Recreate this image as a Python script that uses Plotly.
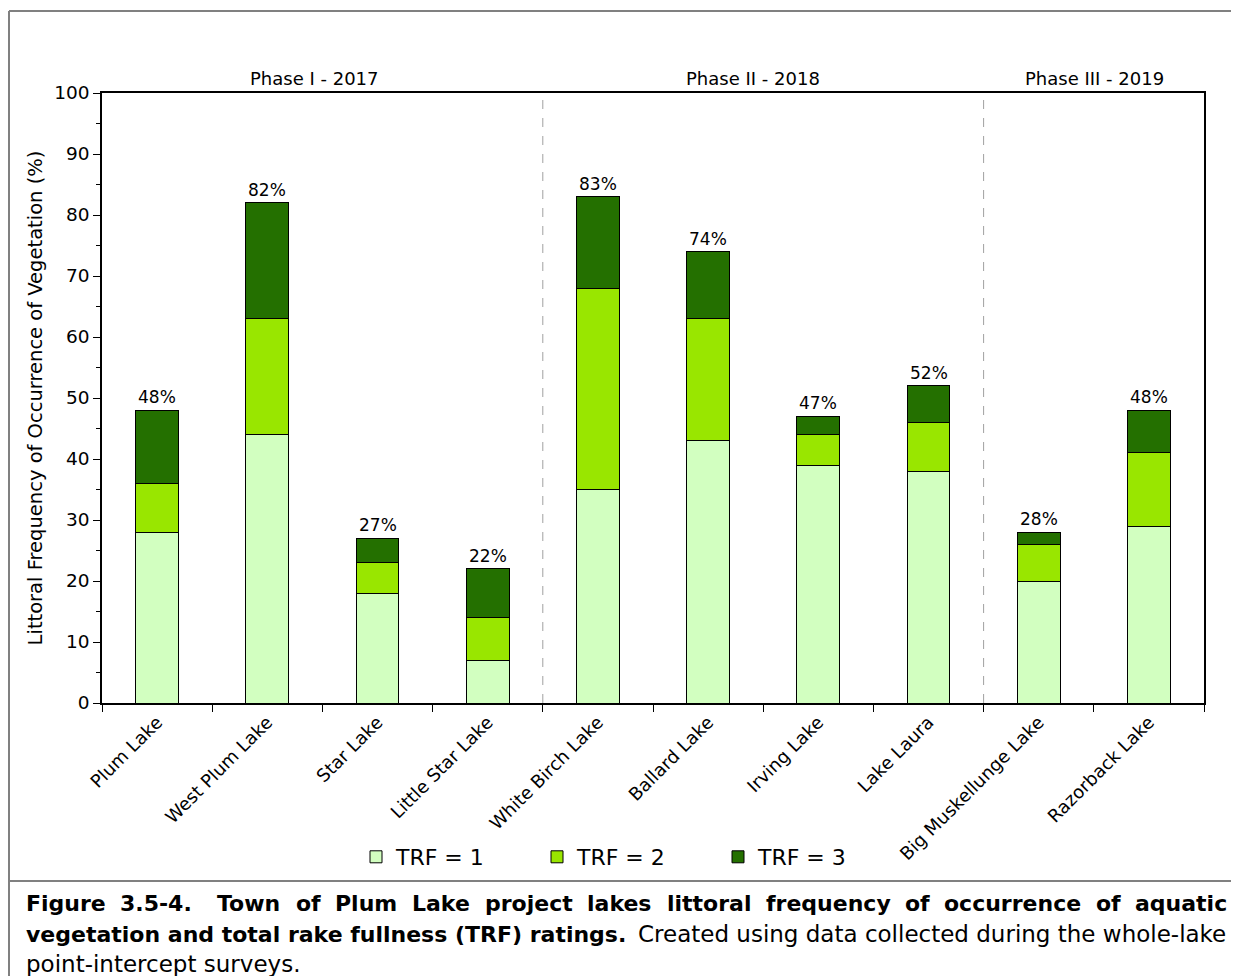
import plotly.graph_objects as go

lakes = ["Plum Lake", "West Plum Lake", "Star Lake", "Little Star Lake", "White Birch Lake",
         "Ballard Lake", "Irving Lake", "Lake Laura", "Big Muskellunge Lake", "Razorback Lake"]
trf1 = [28, 44, 18, 7, 35, 43, 39, 38, 20, 29]
trf2 = [8, 19, 5, 7, 33, 20, 5, 8, 6, 12]
trf3 = [12, 19, 4, 8, 15, 11, 3, 6, 2, 7]
phases = ["Phase I - 2017", "Phase II - 2018", "Phase III - 2019"]
phase_pos = [1.43, 5.41, 8.51]
phase_breaks = [3.5, 7.5]
y_ticks = [0, 10, 20, 30, 40, 50, 60, 70, 80, 90, 100]

colors = ["#D2FFC0", "#99E600", "#247000"]
names = ["TRF = 1", "TRF = 2", "TRF = 3"]

FONT = "DejaVu Sans"

# The page body adds an 8px margin, so the figure is drawn 8px smaller and offset.
OFF = 8
W, H = 1239 - OFF, 976 - OFF
L, R, T, B = 102, 1204, 93, 703  # plot area in reference (page) pixels


def px(x):
    return (x - L) / (R - L)


def py(y):
    return (B - y) / (B - T)


fig = go.Figure()
for vals, c, n in zip([trf1, trf2, trf3], colors, names):
    fig.add_trace(go.Bar(x=lakes, y=vals, name=n,
                         marker=dict(color=c, line=dict(color="black", width=1)), width=0.39))

totals = [a + b + c for a, b, c in zip(trf1, trf2, trf3)]
for lk, t in zip(lakes, totals):
    fig.add_annotation(x=lk, y=t, text=f"{t}%", showarrow=False, yanchor="bottom", yshift=1,
                       font=dict(size=17, color="black", family=FONT))

for p, xp in zip(phases, phase_pos):
    fig.add_annotation(x=xp, xref="x", y=py(78), yref="paper", text=p, showarrow=False,
                       yanchor="middle", font=dict(size=18, color="black", family=FONT))

for b in phase_breaks:
    fig.add_shape(type="line", x0=b, x1=b, xref="x", y0=0, y1=100, yref="y",
                  line=dict(color="#A0A0A0", width=1, dash="dash"))

# outer frame
fig.add_shape(type="line", xref="paper", yref="paper", x0=px(9), x1=px(1250), y0=py(11), y1=py(11),
              line=dict(color="#808080", width=2))
fig.add_shape(type="line", xref="paper", yref="paper", x0=px(9), x1=px(9), y0=py(11), y1=py(990),
              line=dict(color="#808080", width=2))
fig.add_shape(type="line", xref="paper", yref="paper", x0=px(9), x1=px(1250), y0=py(881), y1=py(881),
              line=dict(color="#808080", width=2))

# ---- caption ----
BOLD_W = {" ": .348, "(": .457, ")": .457, "-": .416, ".": .381, "F": .683, "T": .682, "R": .770,
          "P": .733, "L": .638, "a": .675, "c": .593, "d": .716, "e": .678, "f": .435, "g": .716,
          "i": .343, "j": .343, "k": .665, "l": .343, "m": 1.042, "n": .712, "o": .687, "p": .716,
          "q": .716, "r": .493, "s": .595, "t": .478, "u": .712, "v": .652, "w": .872, "y": .652}


def bold_width(word, size):
    return sum(BOLD_W.get(ch, .696) for ch in word) * size


cap_size = 22
line1 = "Figure 3.5-4. Town of Plum Lake project lakes littoral frequency of occurrence of aquatic".split()
x_left, x_right = 24, 1225
widths = [bold_width(w, cap_size) for w in line1]
extra_after = {1: 10}  # double space after the figure number
gap = (x_right - x_left - sum(widths) - sum(extra_after.values())) / (len(line1) - 1)
xc = x_left
for i, (w, wd) in enumerate(zip(line1, widths)):
    fig.add_annotation(x=px(xc), y=py(904), xref="paper", yref="paper", text=f"<b>{w}</b>",
                       showarrow=False, xanchor="left", yanchor="middle",
                       font=dict(size=cap_size, color="black", family=FONT))
    xc += wd + gap + extra_after.get(i, 0)

fig.add_annotation(x=px(24), y=py(934), xref="paper", yref="paper",
                   text="<b>vegetation and total rake fullness (TRF) ratings.</b>",
                   showarrow=False, xanchor="left", yanchor="middle",
                   font=dict(size=cap_size, color="black", family=FONT))
fig.add_annotation(x=px(1228), y=py(934), xref="paper", yref="paper",
                   text="Created using data collected during the whole-lake",
                   showarrow=False, xanchor="right", yanchor="middle",
                   font=dict(size=23, color="black", family=FONT))
fig.add_annotation(x=px(24), y=py(964), xref="paper", yref="paper",
                   text="point-intercept surveys.",
                   showarrow=False, xanchor="left", yanchor="middle",
                   font=dict(size=23, color="black", family=FONT))

fig.update_layout(
    width=W, height=H, barmode="stack",
    margin=dict(l=L - OFF, r=W - (R - OFF), t=T - OFF, b=H - (B - OFF), autoexpand=False),
    paper_bgcolor="white", plot_bgcolor="white",
    font=dict(family=FONT, color="black"),
    legend=dict(orientation="h", x=px(356), xanchor="left", y=py(857), yanchor="middle",
                font=dict(size=22, family=FONT), entrywidth=136, traceorder="normal",
                itemwidth=30),
    xaxis=dict(showline=True, linecolor="black", linewidth=1.5, mirror=True,
               ticks="outside", ticklen=7, tickcolor="black", tickson="boundaries",
               tickangle=-45, tickfont=dict(size=18, family=FONT), showgrid=False),
    yaxis=dict(range=[0, 100], tickvals=y_ticks, showline=True, linecolor="black", linewidth=1.5,
               mirror=True, ticks="outside", ticklen=7, tickcolor="black", showgrid=False,
               tickfont=dict(size=18.5, family=FONT),
               minor=dict(dtick=5, ticks="outside", ticklen=4, tickcolor="black"),
               title=dict(text="Littoral Frequency of Occurrence of Vegetation (%)",
                          font=dict(size=19.5, family=FONT), standoff=6)),
)

fig.write_html("out.html")
